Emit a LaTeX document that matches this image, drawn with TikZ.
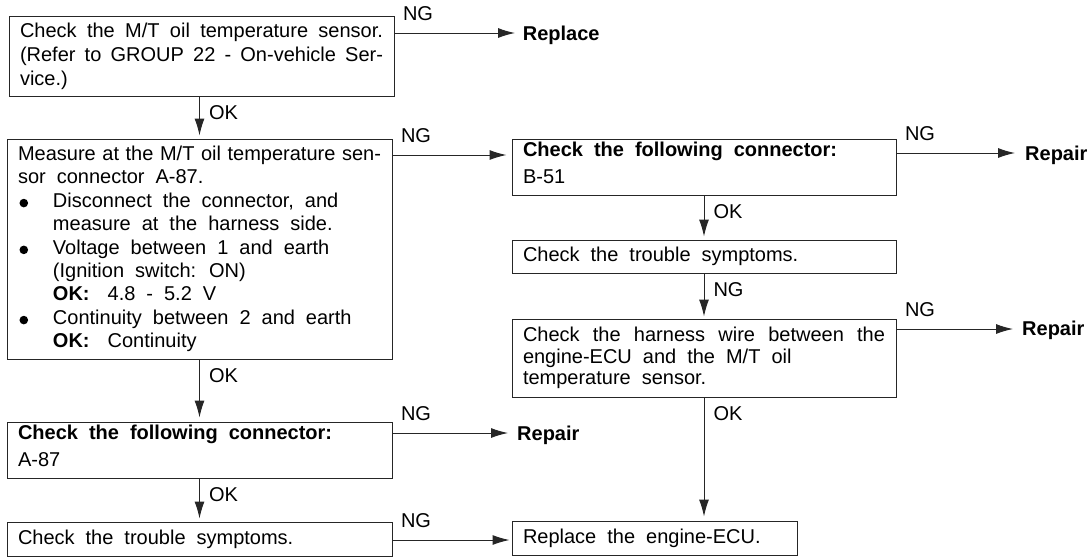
\documentclass[tikz,border=0pt]{standalone}
\usepackage{fontspec}
\setmainfont{Liberation Sans}
\usetikzlibrary{arrows.meta}
\newcommand\fsz[1]{\fontsize{20}{#1}\selectfont\spaceskip=.55em plus .35em minus .3em\relax\parindent=0pt\relax}
\newcommand\bul{\makebox[35pt][l]{\hspace{1.5pt}\tikz[baseline=0pt]\fill (0pt,4.3pt) circle[radius=4.3pt];}}
\begin{document}
\begin{tikzpicture}[x=1pt,y=-1pt,
  box/.style={draw=black!85, line width=1pt, inner xsep=11pt, inner ysep=0pt, align=justify, font=\fsz{23.4}},
  arr/.style={draw=black!85, line width=1pt, -{Latex[length=17pt,width=10pt]}, shorten >=3pt},
  hlab/.style={font=\fsz{23.4}, anchor=south west, inner sep=3pt, xshift=5pt, yshift=9pt},
  vlab/.style={font=\fsz{23.4}, anchor=north west, inner sep=3pt, xshift=6pt, yshift=-6pt},
  res/.style={font=\fsz{23.4}\bfseries, anchor=base west, inner sep=0pt},
]
\useasboundingbox (0,0) rectangle (1090,558);

% boxes
\node[box, text width=363pt, minimum height=80pt, font=\fsz{24}] (b1) at (201.5,56)
  {Check the M/T oil temperature sensor.\linebreak (Refer to GROUP 22 - On-vehicle Ser-\linebreak vice.)};
\node[box, text width=363pt, minimum height=220pt] (b2) at (199.5,249)
  {Measure at the M/T oil temperature sen-\linebreak sor connector A-87.\newline
  \bul Disconnect the connector, and\newline
  \hspace*{35pt}measure at the harness side.\newline
  \bul Voltage between 1 and earth\newline
  \hspace*{35pt}(Ignition switch: ON)\newline
  \hspace*{35pt}\textbf{OK:}\hspace{18pt}4.8 - 5.2 V\newline
  \bul Continuity between 2 and earth\newline
  \hspace*{35pt}\textbf{OK:}\hspace{18pt}Continuity};
\node[box, text width=363pt, minimum height=56pt, font=\fsz{27}] (b3) at (199.5,450)
  {\textbf{Check the following connector:}\newline A-87\strut};
\node[box, text width=363pt, minimum height=34pt] (b4) at (199.5,539)
  {Check the trouble symptoms.};
\node[box, text width=362pt, minimum height=56pt, font=\fsz{27}] (b5) at (704,167)
  {\textbf{Check the following connector:}\newline B-51\strut};
\node[box, text width=362pt, minimum height=33pt] (b6) at (704,256.5)
  {Check the trouble symptoms.};
\node[box, text width=362pt, minimum height=78pt, font=\fsz{21.5}] (b7) at (704,358)
  {Check the harness wire between the\linebreak engine-ECU and the M/T oil\newline temperature sensor.};
\node[box, text width=263pt, minimum height=34pt] (b8) at (654.5,538)
  {Replace the engine-ECU.};

% result texts
\node[res] (r1) at (522.7,40.7) {Replace};
\node[res] (r3) at (1025,160) {Repair};
\node[res] (r4) at (1022,335) {Repair};
\node[res] (r5) at (517,440) {Repair};

% helper coordinates
\coordinate (t1) at (515,33);
\coordinate (h2) at (0,155);
\coordinate (t3) at (1015,153);
\coordinate (t4) at (1013,329);
\coordinate (t5) at (508,433);
\coordinate (h6) at (0,540);

% horizontal connectors
\draw[arr, shorten >=0pt] (b1.east |- t1) node[hlab] (n1) {NG} -- (t1);
\draw[arr, shorten >=5pt] (b2.east |- h2) node[hlab] (n2) {NG} -- (b5.west |- h2);
\draw[arr, shorten >=0pt] (b5.east |- t3) node[hlab] (n3) {NG} -- (t3);
\draw[arr, shorten >=0pt] (b7.east |- t4) node[hlab] (n4) {NG} -- (t4);
\draw[arr, shorten >=0pt] (b3.east |- t5) node[hlab] (n5) {NG} -- (t5);
\draw[arr, shorten >=2pt] (b4.east |- h6) node[hlab] (n6) {NG} -- (b8.west |- h6);

% vertical connectors
\draw[arr] (b1.south -| b2.north) node[vlab] (o1) {OK} -- (b2.north);
\draw[arr, shorten >=4pt] (b2.south) node[vlab] (o2) {OK} -- (b3.north);
\draw[arr] (b3.south) node[vlab] (o3) {OK} -- (b4.north);
\draw[arr] (b5.south) node[vlab] (o4) {OK} -- (b6.north);
\draw[arr, shorten >=2pt] (b6.south) node[vlab] (n7) {NG} -- (b7.north);
\draw[arr, shorten >=4pt] (b7.south) node[vlab] (o5) {OK} -- (b7.south |- b8.north);
\end{tikzpicture}
\end{document}
